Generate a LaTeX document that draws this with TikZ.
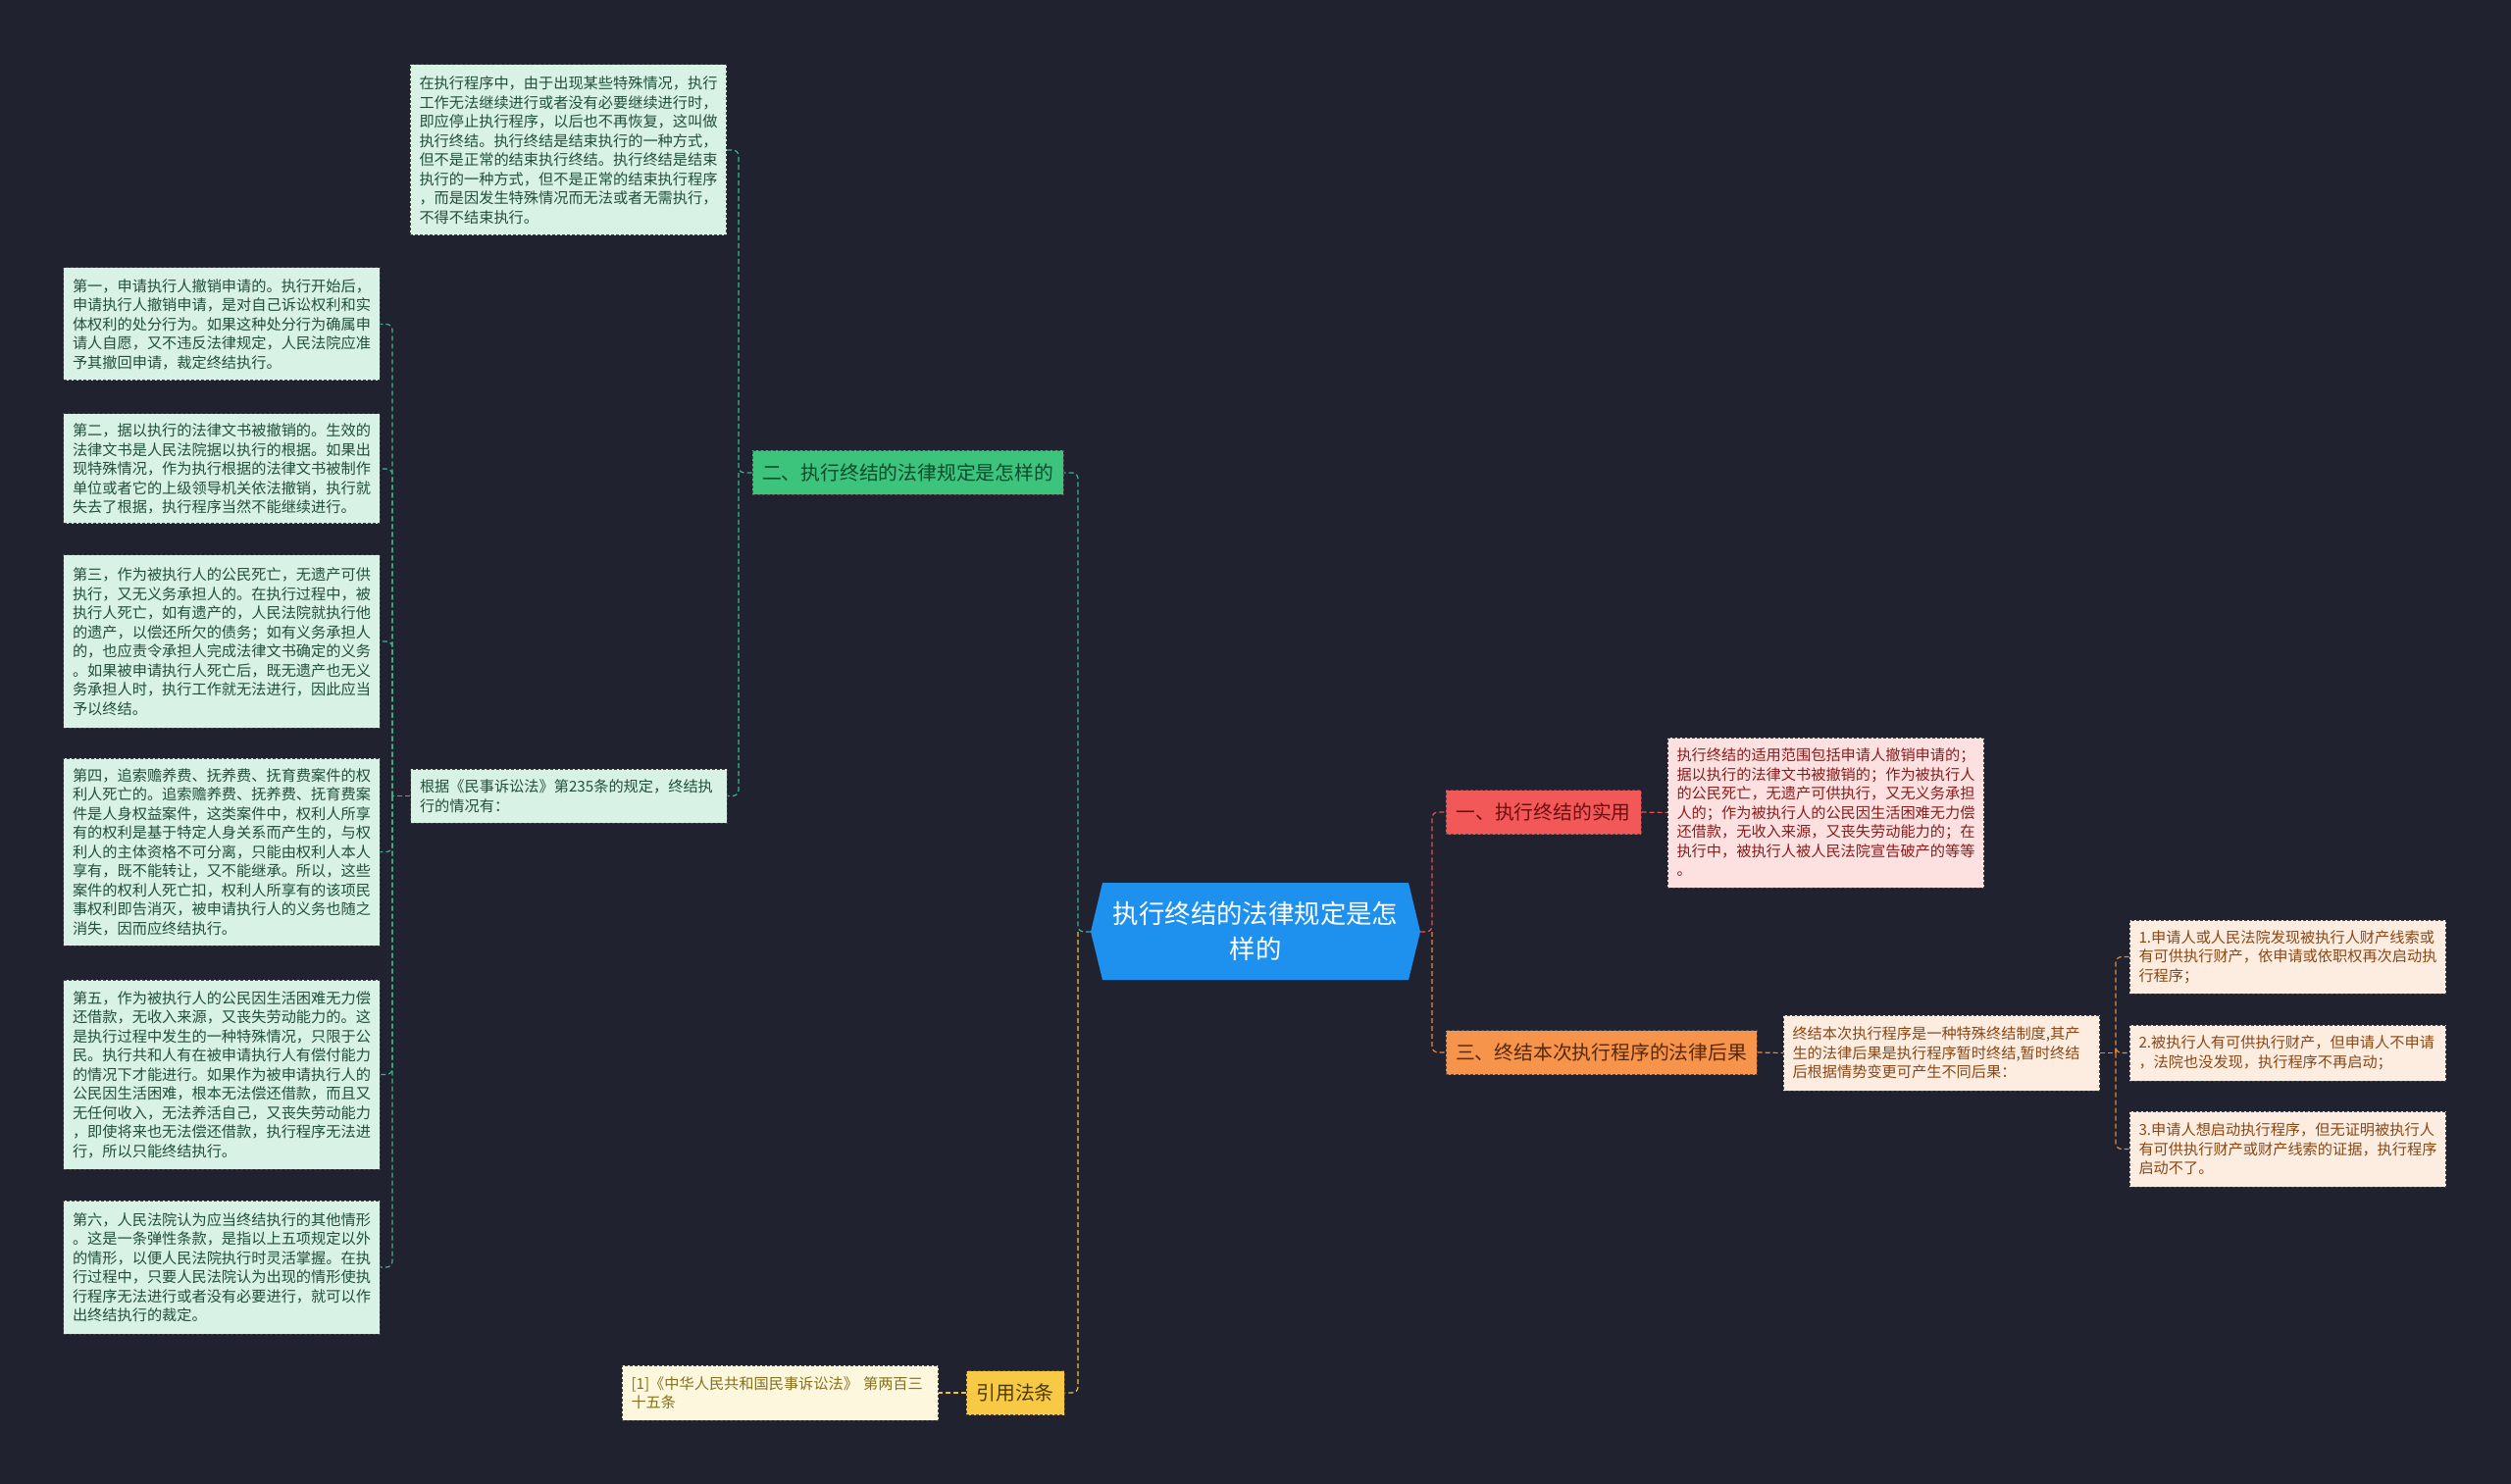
\documentclass[tikz,border=0pt]{standalone}
\usepackage{fontspec}
\setmainfont{Noto Sans CJK SC}
\usetikzlibrary{calc}
\definecolor{bg}{HTML}{20232F}
\definecolor{gfill}{HTML}{D8F2E5}
\definecolor{gtext}{HTML}{22503A}
\definecolor{rfill}{HTML}{FDE1E1}
\definecolor{rtext}{HTML}{8A1C1C}
\definecolor{ofill}{HTML}{FDEDE0}
\definecolor{otext}{HTML}{8A4716}
\definecolor{yfill}{HTML}{FDF7DD}
\definecolor{ytext}{HTML}{86701C}
\definecolor{cblue}{HTML}{1E90EE}
\definecolor{bgreen}{HTML}{3CC47C}
\definecolor{bgreent}{HTML}{0F4A2C}
\definecolor{bred}{HTML}{F25858}
\definecolor{bredt}{HTML}{6A0E0E}
\definecolor{borange}{HTML}{F5944A}
\definecolor{boranget}{HTML}{5A2808}
\definecolor{byellow}{HTML}{F7C944}
\definecolor{byellowt}{HTML}{4A3A08}
\definecolor{lgreen}{HTML}{3FB08A}
\definecolor{lred}{HTML}{E05252}
\definecolor{lorange}{HTML}{E8873A}
\definecolor{lyellow}{HTML}{E6C040}
\begin{document}
\begin{tikzpicture}[x=0.5pt,y=-0.5pt,
  tbox/.style={draw=black!75, dashed, dash pattern=on 1.5pt off 1pt, line width=0.5pt,
    align=left, text width=152pt, inner xsep=4.6pt, inner ysep=3pt,
    font=\fontsize{7.6}{9.75}\selectfont},
  gbox/.style={tbox, fill=gfill, text=gtext},
  rbox/.style={tbox, fill=rfill, text=rtext},
  obox/.style={tbox, fill=ofill, text=otext},
  ybox/.style={tbox, fill=yfill, text=ytext},
  branch/.style={draw=black!70, dashed, dash pattern=on 1.5pt off 1pt, line width=0.5pt,
    font=\fontsize{9.9}{12}\selectfont, inner sep=0pt, minimum height=22.5pt},
  conn/.style={dashed, dash pattern=on 2.5pt off 1.5pt, line width=0.6pt, rounded corners=3pt}
]
\fill[bg] (0,0) rectangle (2560,1513);
\useasboundingbox (0,0) rectangle (2560,1513);

% center
\fill[cblue] (1124,900) -- (1436,900) -- (1448,950) -- (1436,999) -- (1124,999) -- (1112,950) -- cycle;
\node[text=white, align=center, font=\fontsize{13.2}{18}\selectfont] (center) at (1280,949.5) {执行终结的法律规定是怎\\样的};
\coordinate (cw) at (1112,950);
\coordinate (ce) at (1448,950);

% branches
\node[branch, fill=bgreen, text=bgreent, minimum width=158.5pt] (two) at (925.5,482) {二、执行终结的法律规定是怎样的};
\node[branch, fill=bred, text=bredt, minimum width=99.5pt] (one) at (1573.5,828) {一、执行终结的实用};
\node[branch, fill=borange, text=boranget, minimum width=158.5pt] (three) at (1632.5,1073) {三、终结本次执行程序的法律后果};
\node[branch, fill=byellow, text=byellowt, minimum width=50pt] (cite) at (1035,1420) {引用法条};

% green boxes
\node[gbox, minimum height=87pt] (top) at (579.5,153) {在执行程序中，由于出现某些特殊情况，执行\\工作无法继续进行或者没有必要继续进行时，\\即应停止执行程序，以后也不再恢复，这叫做\\执行终结。执行终结是结束执行的一种方式，\\但不是正常的结束执行终结。执行终结是结束\\执行的一种方式，但不是正常的结束执行程序\\，而是因发生特殊情况而无法或者无需执行，\\不得不结束执行。};
\node[gbox, minimum height=27.5pt] (gen) at (580,811.5) {根据《民事诉讼法》第235条的规定，终结执\\行的情况有：};

\node[gbox, minimum height=57.5pt] (b1) at (226,330.5) {第一，申请执行人撤销申请的。执行开始后，\\申请执行人撤销申请，是对自己诉讼权利和实\\体权利的处分行为。如果这种处分行为确属申\\请人自愿，又不违反法律规定，人民法院应准\\予其撤回申请，裁定终结执行。};
\node[gbox, minimum height=56pt] (b2) at (226,478) {第二，据以执行的法律文书被撤销的。生效的\\法律文书是人民法院据以执行的根据。如果出\\现特殊情况，作为执行根据的法律文书被制作\\单位或者它的上级领导机关依法撤销，执行就\\失去了根据，执行程序当然不能继续进行。};
\node[gbox, minimum height=88pt] (b3) at (226,654) {第三，作为被执行人的公民死亡，无遗产可供\\执行，又无义务承担人的。在执行过程中，被\\执行人死亡，如有遗产的，人民法院就执行他\\的遗产，以偿还所欠的债务；如有义务承担人\\的，也应责令承担人完成法律文书确定的义务\\。如果被申请执行人死亡后，既无遗产也无义\\务承担人时，执行工作就无法进行，因此应当\\予以终结。};
\node[gbox, minimum height=95.5pt] (b4) at (226,868.5) {第四，追索赡养费、抚养费、抚育费案件的权\\利人死亡的。追索赡养费、抚养费、抚育费案\\件是人身权益案件，这类案件中，权利人所享\\有的权利是基于特定人身关系而产生的，与权\\利人的主体资格不可分离，只能由权利人本人\\享有，既不能转让，又不能继承。所以，这些\\案件的权利人死亡扣，权利人所享有的该项民\\事权利即告消灭，被申请执行人的义务也随之\\消失，因而应终结执行。};
\node[gbox, minimum height=96.5pt] (b5) at (226,1095.5) {第五，作为被执行人的公民因生活困难无力偿\\还借款，无收入来源，又丧失劳动能力的。这\\是执行过程中发生的一种特殊情况，只限于公\\民。执行共和人有在被申请执行人有偿付能力\\的情况下才能进行。如果作为被申请执行人的\\公民因生活困难，根本无法偿还借款，而且又\\无任何收入，无法养活自己，又丧失劳动能力\\，即使将来也无法偿还借款，执行程序无法进\\行，所以只能终结执行。};
\node[gbox, minimum height=68pt] (b6) at (226,1292) {第六，人民法院认为应当终结执行的其他情形\\。这是一条弹性条款，是指以上五项规定以外\\的情形，以便人民法院执行时灵活掌握。在执\\行过程中，只要人民法院认为出现的情形使执\\行程序无法进行或者没有必要进行，就可以作\\出终结执行的裁定。};

% red box
\node[rbox, minimum height=76.5pt] (rtext) at (1861.5,828.5) {执行终结的适用范围包括申请人撤销申请的；\\据以执行的法律文书被撤销的；作为被执行人\\的公民死亡，无遗产可供执行，又无义务承担\\人的；作为被执行人的公民因生活困难无力偿\\还借款，无收入来源，又丧失劳动能力的；在\\执行中，被执行人被人民法院宣告破产的等等\\。};

% orange boxes
\node[obox, minimum height=38.5pt] (otext) at (1979.5,1073.5) {终结本次执行程序是一种特殊终结制度,其产\\生的法律后果是执行程序暂时终结,暂时终结\\后根据情势变更可产生不同后果：};
\node[obox, minimum height=37.5pt] (r1) at (2332.5,975.5) {1.申请人或人民法院发现被执行人财产线索或\\有可供执行财产，依申请或依职权再次启动执\\行程序；};
\node[obox, minimum height=28.5pt] (r2) at (2332.5,1073.5) {2.被执行人有可供执行财产，但申请人不申请\\，法院也没发现，执行程序不再启动；};
\node[obox, minimum height=38.5pt] (r3) at (2332.5,1171.5) {3.申请人想启动执行程序，但无证明被执行人\\有可供执行财产或财产线索的证据，执行程序\\启动不了。};

% yellow box
\node[ybox, minimum height=28pt] (ctext) at (795.5,1420) {[1]《中华人民共和国民事诉讼法》 第两百三\\十五条};

% connectors
\coordinate (jl) at (1099,950);
\coordinate (jr) at (1460,950);
\coordinate (j2) at (753,482);
\coordinate (jg) at (400,811.5);
\coordinate (j3) at (2157,1073.5);

\draw[conn, lgreen] (cw) -- (jl) |- (two.east);
\draw[conn, lyellow] (jl) |- (cite.east);
\draw[conn, lred] (ce) -- (jr) |- (one.west);
\draw[conn, lorange] (jr) |- (three.west);

\draw[conn, lgreen] (two.west) -- (j2) |- (top.east);
\draw[conn, lgreen] (j2) |- (gen.east);
\draw[conn, lgreen] (gen.west) -- (jg);
\foreach \b in {b1,b2,b3,b4,b5,b6} { \draw[conn, lgreen] (jg) |- (\b.east); }

\draw[conn, lred] (one.east) -- (rtext.west);
\draw[conn, lorange] (three.east) -- (otext.west);
\draw[conn, lorange] (otext.east) -- (j3);
\foreach \b in {r1,r2,r3} { \draw[conn, lorange] (j3) |- (\b.west); }
\draw[conn, lyellow] (cite.west) -- (ctext.east);
\end{tikzpicture}
\end{document}
